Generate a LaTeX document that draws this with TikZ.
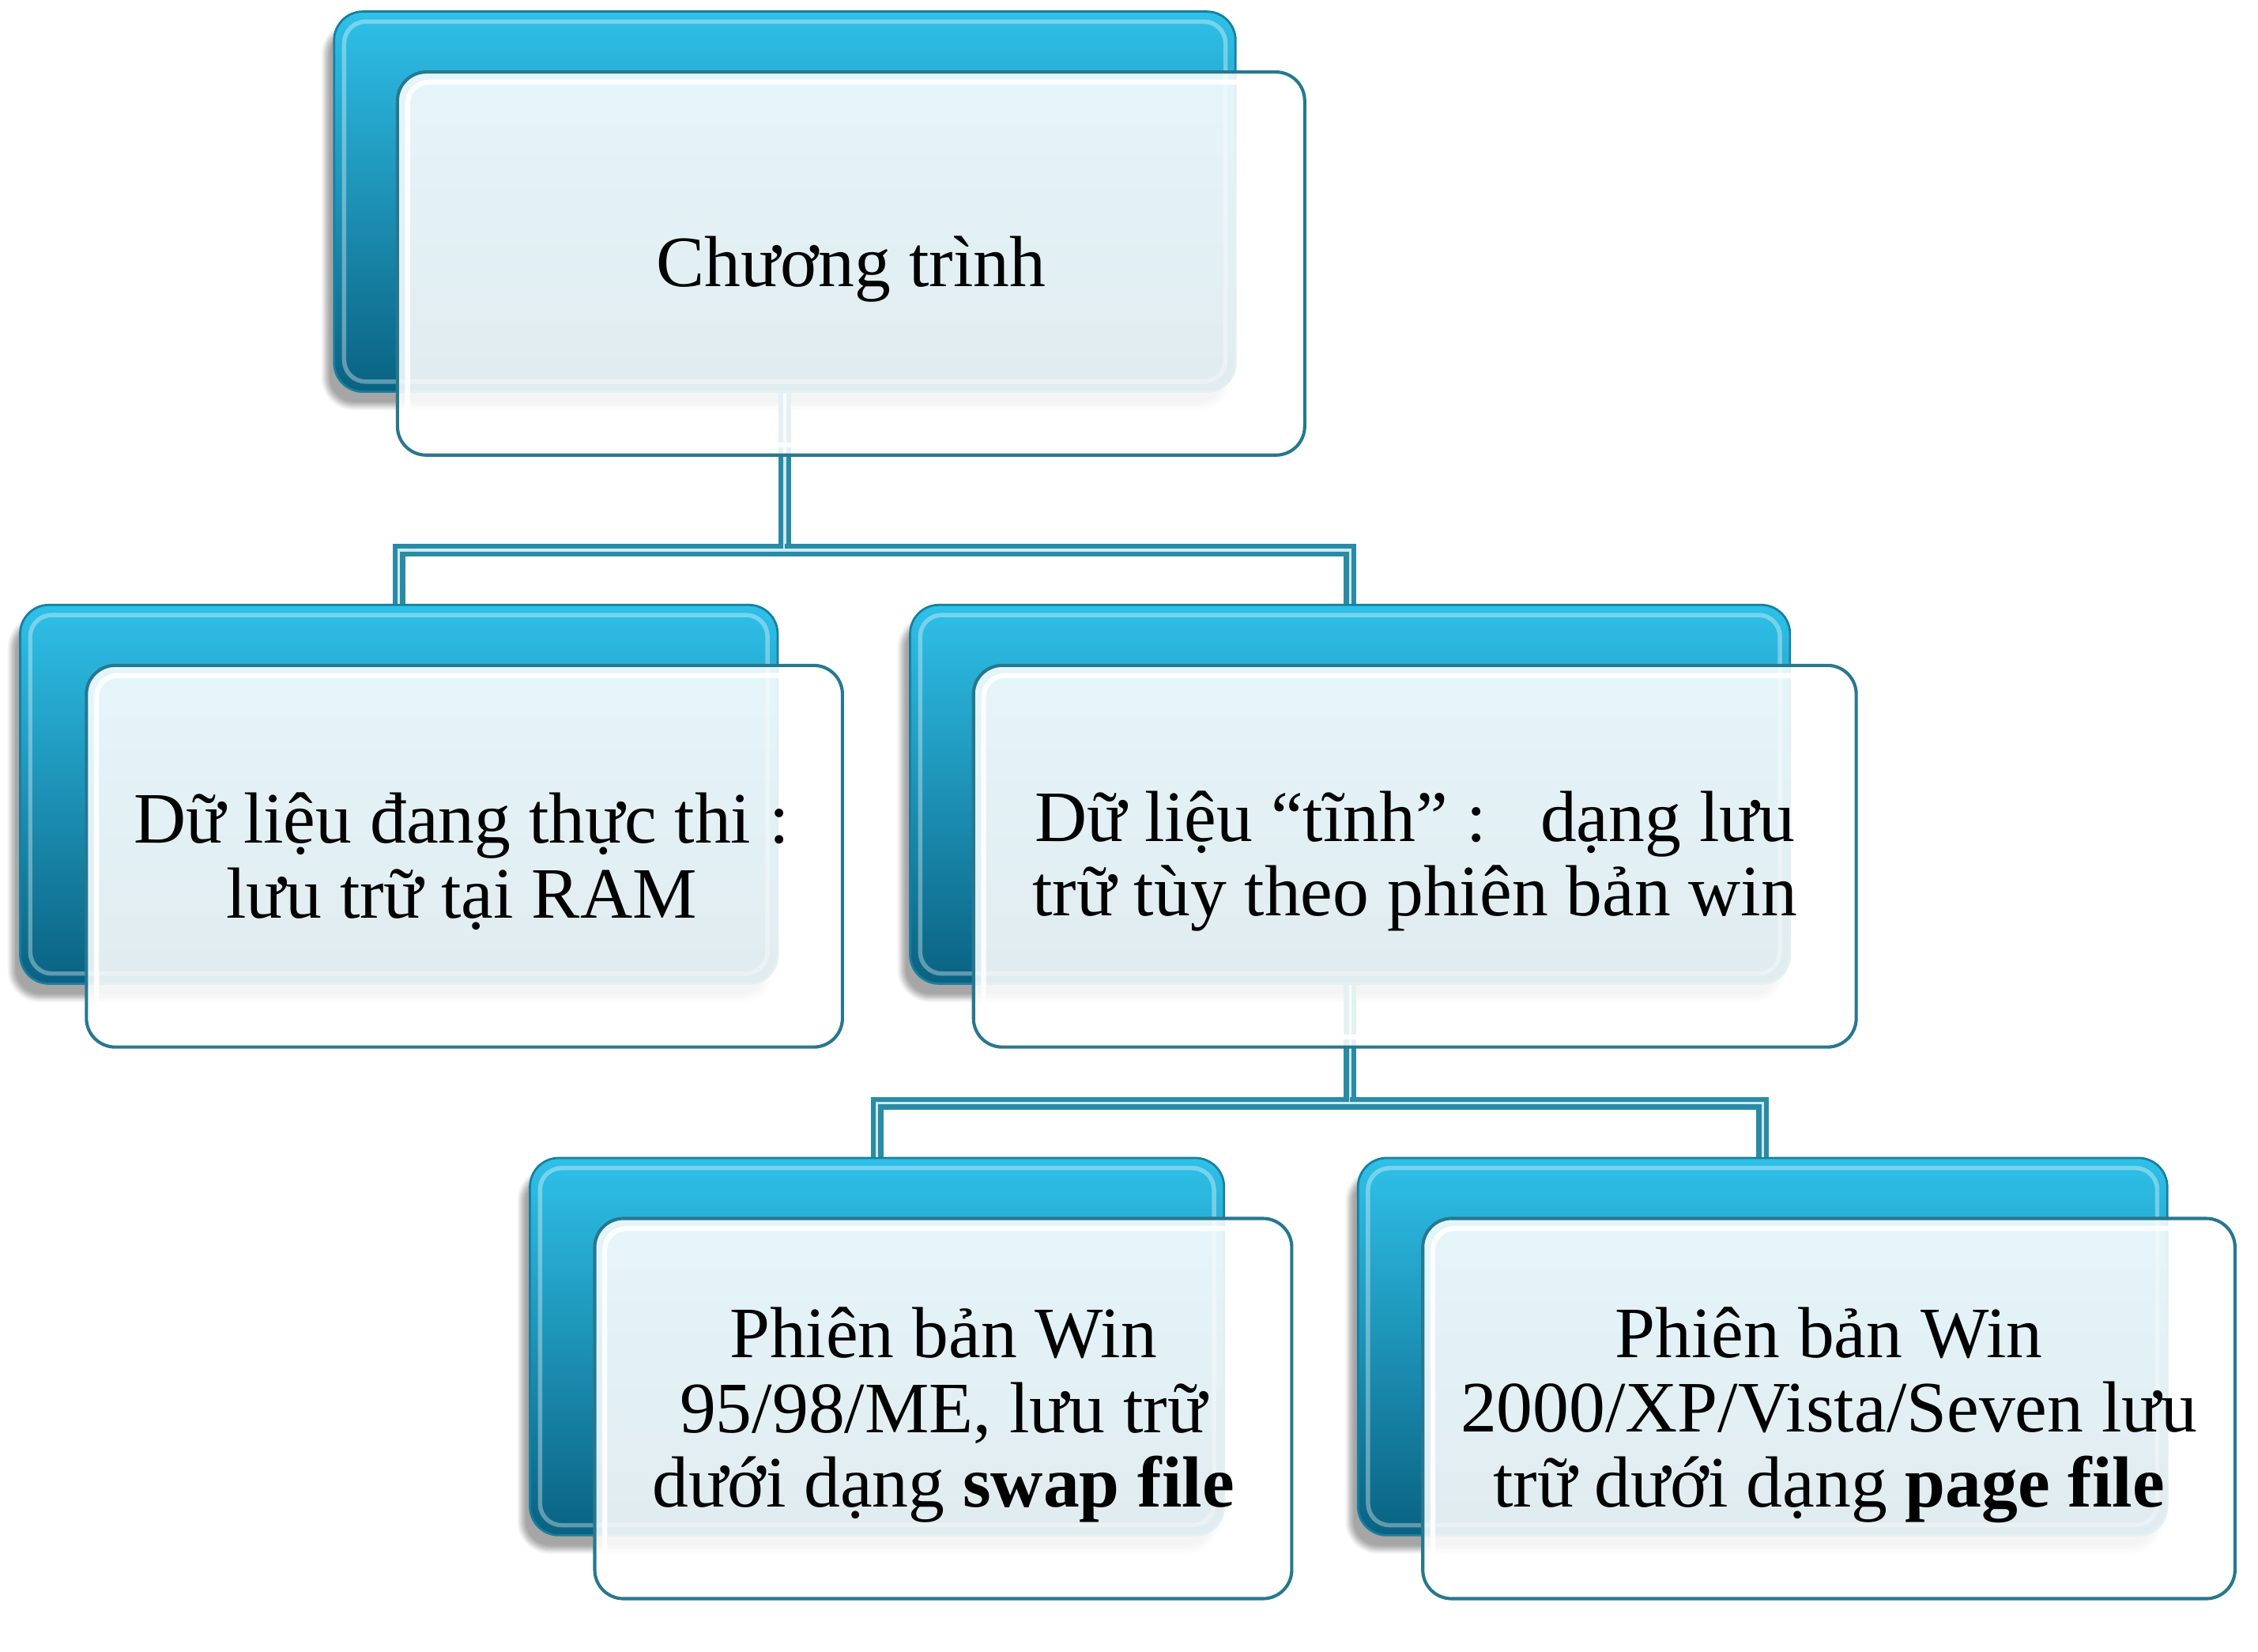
\documentclass[tikz,border=0pt]{standalone}
\usepackage{fontspec}
\setmainfont{Liberation Serif}
\usetikzlibrary{shadows.blur,calc}
\definecolor{bTop}{HTML}{2FC0E8}
\definecolor{bMid}{HTML}{1DA6D0}
\definecolor{bBot}{HTML}{0A6282}
\definecolor{bEdge}{HTML}{177FA0}
\definecolor{fEdge}{HTML}{26788F}
\definecolor{lk}{HTML}{2A8BA5}
\definecolor{lkLight}{HTML}{CDE8F0}
\tikzset{
 backbox/.style={rectangle, rounded corners=4mm, top color=bTop, middle color=bMid, bottom color=bBot,
   draw=bEdge, line width=0.3mm, inner sep=0pt,
   blur shadow={shadow xshift=-1.2mm, shadow yshift=-2mm, shadow opacity=35, shadow blur steps=8},
   path picture={\draw[white, opacity=0.35, line width=0.6mm, rounded corners=3mm]
     ([shift={(1.4mm,-1.4mm)}]path picture bounding box.north west) rectangle
     ([shift={(-1.4mm,1.4mm)}]path picture bounding box.south east);}},
 frontbox/.style={rectangle, rounded corners=4mm, draw=fEdge, line width=0.45mm, fill=white,
   fill opacity=0.88, inner sep=0pt,
   path picture={\draw[white, opacity=0.9, line width=0.7mm, rounded corners=3mm]
     ([shift={(1.4mm,-1.4mm)}]path picture bounding box.north west) rectangle
     ([shift={(-1.4mm,1.4mm)}]path picture bounding box.south east);}},
 boxtext/.style={inner sep=0pt, align=center, font=\fontsize{28.6pt}{29.6pt}\selectfont},
 link/.style={draw=lk, line width=0.7mm, double=lkLight, double distance=0.35mm}
}
\begin{document}
\begin{tikzpicture}[x=0.2mm, y=-0.2mm]
\useasboundingbox (0,0) rectangle (1568,1147);
% back boxes
\node[backbox, minimum width=125.2mm, minimum height=52.8mm] (tb) at (545,140) {};
\node[backbox, minimum width=105.2mm, minimum height=52.6mm] (lb) at (277,551.5) {};
\node[backbox, minimum width=122.2mm, minimum height=52.6mm] (rb) at (937.5,551.5) {};
\node[backbox, minimum width=96.4mm, minimum height=52.4mm] (llb) at (609,935) {};
\node[backbox, minimum width=112.4mm, minimum height=52.4mm] (lrb) at (1224,935) {};
% connectors
\coordinate (j1) at (545,382);
\coordinate (j2) at (937.5,766);
\draw[link] (tb.south) -- (j1) -| (lb.north);
\draw[link] (j1) -| (rb.north);
\draw[link] (rb.south) -- (j2) -| (llb.north);
\draw[link] (j2) -| (lrb.north);
% front boxes
\node[frontbox, minimum width=126mm, minimum height=53.2mm] (tf) at (591,183) {};
\node[frontbox, minimum width=105mm, minimum height=53mm] (lf) at (322.5,594.5) {};
\node[frontbox, minimum width=122.6mm, minimum height=53mm] (rf) at (982.5,594.5) {};
\node[frontbox, minimum width=96.8mm, minimum height=52.8mm] (llf) at (655,978) {};
\node[frontbox, minimum width=112.8mm, minimum height=52.8mm] (lrf) at (1270,978) {};
% texts
\node[boxtext] (tft) at ([yshift=-0.8mm]tf.center) {Chương trình};
\node[boxtext] (lft) at ([xshift=-0.4mm,yshift=-0.7mm]lf.center) {Dữ liệu đang thực thi :\\lưu trữ tại RAM};
\node[boxtext] (rft) at ([yshift=-0.7mm]rf.center) {Dữ liệu “tĩnh” :\hspace{0.75em}dạng lưu\\trữ tùy theo phiên bản win};
\node[boxtext] (llft) at ([yshift=-0.9mm]llf.center) {Phiên bản Win\\95/98/ME, lưu trữ\\dưới dạng \textbf{swap file}};
\node[boxtext] (lrft) at ([yshift=-0.9mm]lrf.center) {Phiên bản Win\\2000/XP/Vista/Seven lưu\\trữ dưới dạng \textbf{page file}};
\end{tikzpicture}
\end{document}
